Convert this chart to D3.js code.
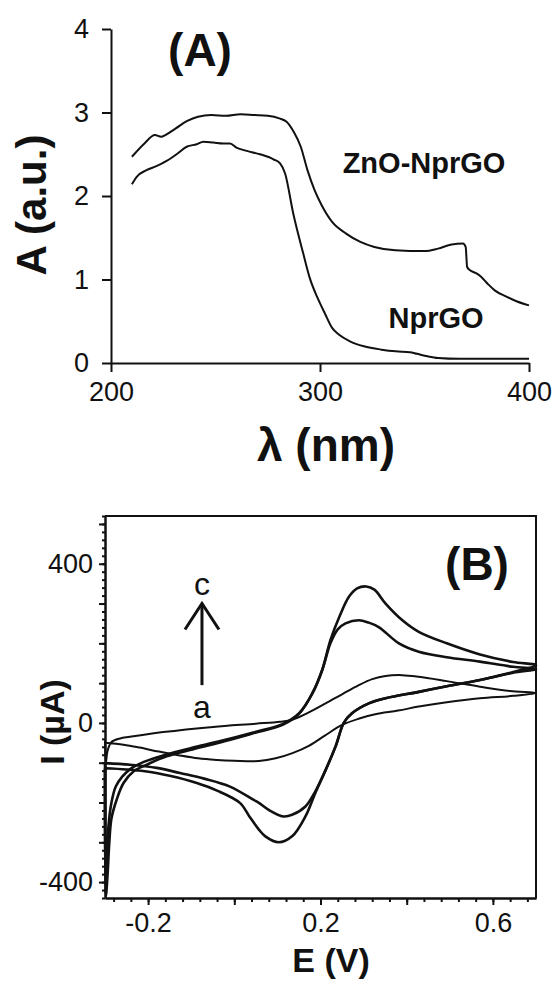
<!DOCTYPE html>
<html>
<head>
<meta charset="utf-8">
<script src="https://cdn.jsdelivr.net/npm/d3@7"></script>
<style>
  body { margin: 0; background: #fff; }
  svg { display: block; }
  .axis text { font-family: "Liberation Sans", Arial, sans-serif; font-size: 27px; fill: #111; }
  .axis path, .axis line { stroke: #111; stroke-width: 2; }
  .lbl { font-family: "Liberation Sans", Arial, sans-serif; fill: #111; }
</style>
</head>
<body>
<div id="chart"></div>
<script>
// ---- panel A : UV-vis spectra (wavelength nm, absorbance) ----
var uvTicksX = [200, 300, 400];
var uvTicksY = [0, 1, 2, 3, 4];

var znoWave = [210, 216, 221, 224, 226, 231, 236.5, 241.6, 248, 255, 262, 268.5, 275, 280.5, 284, 287.4, 290.8, 294, 297.4, 300.8, 305.8, 312.5, 319.3, 326, 336, 350, 356.5, 363, 368.4, 369.7, 370.4, 371.8, 374.3, 376.8, 380.2, 383.6, 388.7, 394, 400];
var znoAbs  = [2.47, 2.63, 2.73, 2.71, 2.73, 2.81, 2.90, 2.95, 2.97, 2.96, 2.98, 2.97, 2.96, 2.93, 2.89, 2.77, 2.59, 2.31, 2.07, 1.89, 1.69, 1.55, 1.45, 1.39, 1.35, 1.34, 1.37, 1.42, 1.43, 1.39, 1.15, 1.11, 1.08, 1.04, 0.95, 0.87, 0.80, 0.74, 0.69];

var nprWave = [210, 212.3, 217, 222, 226.6, 231.4, 236.2, 241, 244.2, 249, 253.7, 257, 260, 265, 271.3, 277.7, 280.9, 283.3, 287.2, 292, 295.2, 299, 302.4, 305.8, 309, 314.3, 321, 329.5, 336.3, 343, 346.4, 351.5, 356.5, 366.6, 400];
var nprAbs  = [2.14, 2.23, 2.31, 2.36, 2.42, 2.50, 2.59, 2.62, 2.65, 2.64, 2.63, 2.63, 2.58, 2.54, 2.50, 2.44, 2.39, 2.27, 1.79, 1.31, 1.01, 0.77, 0.59, 0.42, 0.34, 0.26, 0.20, 0.16, 0.14, 0.13, 0.11, 0.08, 0.06, 0.05, 0.05];

// ---- panel B : cyclic voltammograms, [E (V), I (uA)] in sweep order ----
var cvTicksX = [-0.2, 0.2, 0.6];
var cvTicksY = [-400, 0, 400];

var cvA = [[-0.3,-45],[-0.298,-100],[-0.294,-70],[-0.285,-48],[-0.265,-39],[-0.242,-35],[-0.165,-23],[-0.049,-10],[0.05,-2],[0.106,3],[0.134,8],[0.174,27],[0.212,49],[0.25,72],[0.289,95],[0.32,110],[0.351,118],[0.39,120],[0.428,116],[0.493,105],[0.57,91],[0.64,80],[0.7,75],
  [0.647,68],[0.57,62],[0.493,52],[0.428,41],[0.38,31],[0.327,22],[0.29,11],[0.25,-5],[0.21,-32],[0.174,-57],[0.135,-76],[0.096,-89],[0.057,-96],[0.0,-95],[-0.04,-93],[-0.084,-89],[-0.13,-81],[-0.175,-72],[-0.22,-62],[-0.257,-55],[-0.3,-50]];

var cvB = [[-0.3,-101],[-0.299,-430],[-0.296,-350],[-0.292,-260],[-0.285,-200],[-0.275,-160],[-0.26,-135],[-0.24,-115],[-0.21,-98],[-0.16,-80],[-0.1,-63],[-0.03,-45],[0.044,-24],[0.112,-3],[0.151,25],[0.181,74],[0.204,133],[0.223,200],[0.24,235],[0.258,250],[0.289,258],[0.312,252],[0.335,241],[0.382,200],[0.428,179],[0.493,165],[0.57,154],[0.647,141],[0.7,135],
  [0.647,126],[0.57,108],[0.493,92],[0.428,78],[0.351,62],[0.312,49],[0.273,24],[0.254,0],[0.235,-59],[0.212,-118],[0.188,-172],[0.165,-210],[0.134,-231],[0.114,-235],[0.079,-218],[0.057,-201],[0.044,-193],[-0.01,-160],[-0.07,-140],[-0.126,-126],[-0.18,-113],[-0.242,-105],[-0.3,-101]];

var cvC = [[-0.3,-114],[-0.298,-435],[-0.294,-380],[-0.29,-300],[-0.285,-240],[-0.273,-193],[-0.257,-151],[-0.234,-122],[-0.203,-105],[-0.157,-84],[-0.103,-68],[-0.033,-49],[0.044,-26],[0.112,-5],[0.151,24],[0.181,74],[0.204,133],[0.223,208],[0.245,270],[0.266,317],[0.285,338],[0.306,343],[0.325,335],[0.351,300],[0.39,258],[0.428,229],[0.493,200],[0.57,172],[0.647,153],[0.7,145],
  [0.647,128],[0.57,108],[0.493,92],[0.428,78],[0.351,62],[0.312,49],[0.273,24],[0.254,0],[0.235,-59],[0.212,-118],[0.188,-176],[0.165,-235],[0.134,-285],[0.103,-300],[0.072,-285],[0.057,-268],[0.035,-235],[0.013,-201],[-0.04,-170],[-0.087,-151],[-0.15,-133],[-0.203,-122],[-0.25,-117],[-0.3,-114]];

var svg = d3.select("#chart").append("svg")
  .attr("width", 555)
  .attr("height", 984);

svg.append("rect").attr("width", 555).attr("height", 984).attr("fill", "#fff");

// plain hyphen minus like the original figure
function fmt(spec) {
  var f = d3.format(spec);
  return function(d) { return f(d).replace("\u2212", "-"); };
}

// ================= panel A =================
var xA = d3.scaleLinear().domain([200, 400]).range([111, 529]);
var yA = d3.scaleLinear().domain([0, 4]).range([363, 29]);

svg.append("g")
  .attr("class", "axis")
  .attr("transform", "translate(0,363)")
  .call(d3.axisBottom(xA).tickValues(uvTicksX).tickSize(9).tickSizeOuter(0).tickPadding(10).tickFormat(fmt("d")));

svg.append("g")
  .attr("class", "axis")
  .attr("transform", "translate(111,0)")
  .call(d3.axisLeft(yA).tickValues(uvTicksY).tickSize(9).tickSizeOuter(0).tickPadding(13).tickFormat(fmt("d")));

var uvLine = d3.line()
  .x(function(d) { return xA(d[0]); })
  .y(function(d) { return yA(d[1]); })
  .curve(d3.curveMonotoneX);

[[znoWave, znoAbs], [nprWave, nprAbs]].forEach(function(s) {
  svg.append("path")
    .datum(d3.zip(s[0], s[1]))
    .attr("d", uvLine)
    .attr("fill", "none")
    .attr("stroke", "#111")
    .attr("stroke-width", 2);
});

svg.append("text").attr("class", "lbl")
  .attr("x", 200).attr("y", 66)
  .attr("text-anchor", "middle")
  .style("font-size", "46px").style("font-weight", "bold")
  .text("(A)");

svg.append("text").attr("class", "lbl")
  .attr("x", 424).attr("y", 173)
  .attr("text-anchor", "middle")
  .style("font-size", "29px").style("font-weight", "bold")
  .text("ZnO-NprGO");

svg.append("text").attr("class", "lbl")
  .attr("x", 436).attr("y", 328)
  .attr("text-anchor", "middle")
  .style("font-size", "29px").style("font-weight", "bold")
  .text("NprGO");

svg.append("text").attr("class", "lbl")
  .attr("transform", "translate(31,205) rotate(-90)")
  .attr("dy", "0.35em")
  .attr("text-anchor", "middle")
  .style("font-size", "42px").style("font-weight", "bold")
  .text("A (a.u.)");

svg.append("text").attr("class", "lbl")
  .attr("x", 326).attr("y", 445)
  .attr("dy", "0.35em")
  .attr("text-anchor", "middle")
  .style("font-size", "46px").style("font-weight", "bold")
  .text("λ (nm)");

// ================= panel B =================
var xB = d3.scaleLinear().domain([-0.3, 0.7]).range([105, 536]);
var yB = d3.scaleLinear().domain([-440, 520]).range([898, 516]);

// minor ticks first, then labelled axis on top
svg.append("g")
  .attr("class", "axis")
  .attr("transform", "translate(0,898)")
  .call(d3.axisBottom(xB).tickValues(d3.range(-0.28, 0.7, 0.04)).tickSize(4).tickSizeOuter(0).tickFormat(""));

svg.append("g")
  .attr("class", "axis")
  .attr("transform", "translate(0,898)")
  .call(d3.axisBottom(xB).tickValues([-0.2, 0, 0.2, 0.4, 0.6]).tickSize(7).tickSizeOuter(0)
    .tickFormat(function(d) { return cvTicksX.some(function(t) { return Math.abs(t - d) < 1e-9; }) ? fmt(".1f")(d) : ""; })
    .tickPadding(8));

svg.append("g")
  .attr("class", "axis")
  .attr("transform", "translate(105,0)")
  .call(d3.axisLeft(yB).tickValues(d3.range(-440, 521, 20)).tickSize(3).tickSizeOuter(0).tickFormat(""));

svg.append("g")
  .attr("class", "axis")
  .attr("transform", "translate(105,0)")
  .call(d3.axisLeft(yB).tickValues(d3.range(-400, 501, 100)).tickSize(6).tickSizeOuter(0)
    .tickFormat(function(d) { return cvTicksY.indexOf(d) >= 0 ? fmt("d")(d) : ""; })
    .tickPadding(6));

// frame top and right
svg.append("path")
  .attr("d", "M" + xB(-0.3) + "," + yB(520) + "H" + xB(0.7) + "V" + yB(-440))
  .attr("fill", "none")
  .attr("stroke", "#111")
  .attr("stroke-width", 2);

var cvLine = d3.line()
  .x(function(d) { return xB(d[0]); })
  .y(function(d) { return yB(d[1]); })
  .curve(d3.curveCatmullRom.alpha(0.5));

[[cvA, 2], [cvB, 2.6], [cvC, 2.6]].forEach(function(s) {
  svg.append("path")
    .datum(s[0])
    .attr("d", cvLine)
    .attr("fill", "none")
    .attr("stroke", "#111")
    .attr("stroke-width", s[1]);
});

// arrow a -> c
var arrowE = -0.075;
svg.append("line")
  .attr("x1", xB(arrowE)).attr("y1", yB(95))
  .attr("x2", xB(arrowE)).attr("y2", yB(300))
  .attr("stroke", "#111").attr("stroke-width", 3);
svg.append("path")
  .attr("d", "M" + (xB(arrowE) - 17) + "," + (yB(300) + 26) + "L" + xB(arrowE) + "," + yB(300) + "L" + (xB(arrowE) + 17) + "," + (yB(300) + 26))
  .attr("fill", "none").attr("stroke", "#111").attr("stroke-width", 3);

svg.append("text").attr("class", "lbl")
  .attr("x", xB(arrowE)).attr("y", yB(350))
  .attr("dy", "0.35em").attr("text-anchor", "middle")
  .style("font-size", "32px")
  .text("c");

svg.append("text").attr("class", "lbl")
  .attr("x", xB(arrowE)).attr("y", yB(40))
  .attr("dy", "0.35em").attr("text-anchor", "middle")
  .style("font-size", "32px")
  .text("a");

svg.append("text").attr("class", "lbl")
  .attr("x", 477).attr("y", 580)
  .attr("text-anchor", "middle")
  .style("font-size", "46px").style("font-weight", "bold")
  .text("(B)");

svg.append("text").attr("class", "lbl")
  .attr("transform", "translate(52,722) rotate(-90)")
  .attr("dy", "0.35em")
  .attr("text-anchor", "middle")
  .style("font-size", "34px").style("font-weight", "bold")
  .text("I (µA)");

svg.append("text").attr("class", "lbl")
  .attr("x", 331).attr("y", 960)
  .attr("dy", "0.35em")
  .attr("text-anchor", "middle")
  .style("font-size", "34px").style("font-weight", "bold")
  .text("E (V)");
</script>
</body>
</html>
